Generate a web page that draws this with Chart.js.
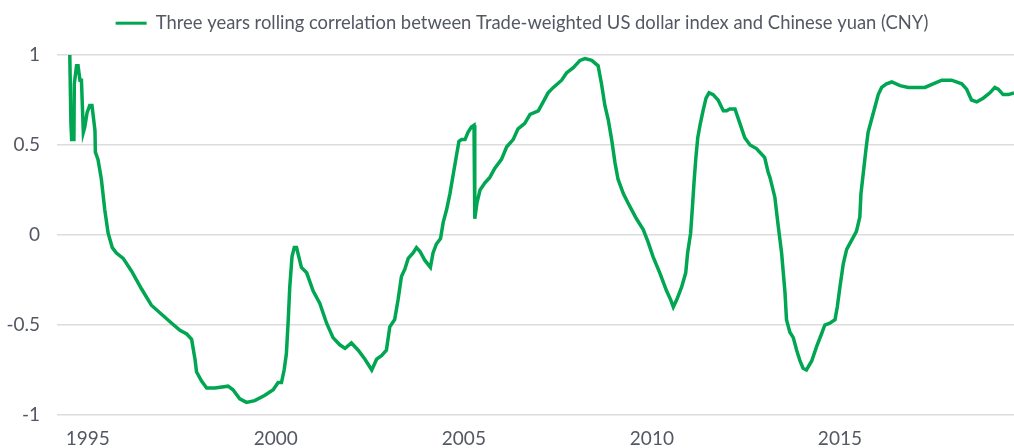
<!DOCTYPE html>
<html>
<head>
    <script src="https://cdn.jsdelivr.net/npm/chart.js"></script>
    <style>
        html, body {
            margin: 0;
            padding: 0;
            background-color: white;
        }

        .chart-box {
            width: 1014px;
            height: 448px;
        }
    </style>
</head>
<body>

    <div class="chart-box">
        <canvas id="corrChart"></canvas>
    </div>

    <script>
        // Series label
        const seriesLabel = "Three years rolling correlation between Trade-weighted US dollar index and Chinese yuan (CNY)";

        // Dates as decimal years
        const years = [
            1994.52, 1994.55, 1994.57, 1994.63, 1994.64, 1994.70, 1994.74, 1994.79, 1994.83, 1994.88,
            1994.92, 1994.98, 1995.05, 1995.11, 1995.19, 1995.20, 1995.27, 1995.36, 1995.45, 1995.54,
            1995.65, 1995.76, 1995.94, 1996.16, 1996.43, 1996.69, 1996.96, 1997.23, 1997.45, 1997.63,
            1997.76, 1997.85, 1997.89, 1998.02, 1998.16, 1998.38, 1998.73, 1998.86, 1999.04, 1999.22,
            1999.44, 1999.71, 1999.93, 2000.06, 2000.15, 2000.22, 2000.28, 2000.33, 2000.37, 2000.43,
            2000.49, 2000.55, 2000.68, 2000.82, 2000.99, 2001.17, 2001.35, 2001.52, 2001.70, 2001.84,
            2002.01, 2002.19, 2002.37, 2002.55, 2002.68, 2002.81, 2002.94, 2003.03, 2003.16, 2003.25,
            2003.34, 2003.43, 2003.52, 2003.65, 2003.74, 2003.83, 2003.96, 2004.11, 2004.18, 2004.27,
            2004.38, 2004.45, 2004.54, 2004.63, 2004.72, 2004.81, 2004.87, 2004.94, 2005.03, 2005.11,
            2005.20, 2005.27, 2005.29, 2005.35, 2005.43, 2005.56, 2005.69, 2005.82, 2006.00, 2006.14,
            2006.31, 2006.44, 2006.62, 2006.76, 2006.98, 2007.11, 2007.24, 2007.38, 2007.60, 2007.73,
            2007.91, 2008.09, 2008.22, 2008.40, 2008.57, 2008.66, 2008.75, 2008.84, 2008.93, 2009.02,
            2009.10, 2009.24, 2009.41, 2009.59, 2009.77, 2009.90, 2010.03, 2010.21, 2010.39, 2010.50,
            2010.57, 2010.66, 2010.79, 2010.90, 2010.95, 2011.03, 2011.08, 2011.12, 2011.17, 2011.22,
            2011.28, 2011.36, 2011.44, 2011.52, 2011.63, 2011.76, 2011.90, 2011.99, 2012.07, 2012.21,
            2012.34, 2012.47, 2012.61, 2012.78, 2012.87, 2012.96, 2013.00, 2013.09, 2013.14, 2013.27,
            2013.36, 2013.45, 2013.54, 2013.58, 2013.67, 2013.76, 2013.85, 2013.94, 2014.02, 2014.11,
            2014.25, 2014.38, 2014.51, 2014.60, 2014.73, 2014.87, 2014.93, 2015.00, 2015.09, 2015.18,
            2015.31, 2015.44, 2015.53, 2015.56, 2015.62, 2015.69, 2015.75, 2015.84, 2015.93, 2016.02,
            2016.11, 2016.24, 2016.38, 2016.60, 2016.82, 2017.04, 2017.26, 2017.48, 2017.71, 2017.97,
            2018.24, 2018.37, 2018.50, 2018.64, 2018.81, 2018.99, 2019.12, 2019.21, 2019.34, 2019.48,
            2019.63
        ];

        const correlation = [
            1.00, 0.62, 0.53, 0.53, 0.84, 0.94, 0.94, 0.86, 0.86, 0.57,
            0.60, 0.68, 0.72, 0.72, 0.58, 0.46, 0.42, 0.31, 0.14, 0.01,
            -0.07, -0.10, -0.13, -0.20, -0.30, -0.39, -0.44, -0.49, -0.53, -0.55,
            -0.58, -0.69, -0.76, -0.81, -0.85, -0.85, -0.84, -0.86, -0.91, -0.93,
            -0.92, -0.89, -0.86, -0.82, -0.82, -0.75, -0.66, -0.47, -0.29, -0.12,
            -0.07, -0.07, -0.18, -0.21, -0.31, -0.38, -0.49, -0.57, -0.61, -0.63,
            -0.60, -0.64, -0.69, -0.75, -0.69, -0.67, -0.64, -0.51, -0.47, -0.36,
            -0.23, -0.19, -0.13, -0.10, -0.07, -0.09, -0.14, -0.18, -0.10, -0.05,
            -0.02, 0.07, 0.14, 0.23, 0.34, 0.45, 0.52, 0.53, 0.53, 0.57,
            0.60, 0.61, 0.09, 0.18, 0.25, 0.29, 0.32, 0.37, 0.42, 0.49,
            0.53, 0.59, 0.62, 0.67, 0.69, 0.74, 0.79, 0.82, 0.86, 0.90,
            0.93, 0.97, 0.98, 0.97, 0.94, 0.84, 0.72, 0.64, 0.53, 0.40,
            0.31, 0.23, 0.16, 0.09, 0.03, -0.04, -0.12, -0.21, -0.31, -0.36,
            -0.40, -0.36, -0.29, -0.21, -0.10, 0.01, 0.16, 0.29, 0.43, 0.54,
            0.61, 0.69, 0.76, 0.79, 0.78, 0.75, 0.69, 0.69, 0.70, 0.70,
            0.62, 0.54, 0.50, 0.48, 0.46, 0.44, 0.43, 0.35, 0.32, 0.21,
            0.05, -0.10, -0.32, -0.47, -0.54, -0.57, -0.64, -0.70, -0.74, -0.75,
            -0.70, -0.62, -0.55, -0.50, -0.49, -0.47, -0.40, -0.29, -0.16, -0.08,
            -0.03, 0.02, 0.10, 0.23, 0.34, 0.47, 0.57, 0.64, 0.71, 0.78,
            0.82, 0.84, 0.85, 0.83, 0.82, 0.82, 0.82, 0.84, 0.86, 0.86,
            0.84, 0.81, 0.75, 0.74, 0.76, 0.79, 0.82, 0.81, 0.78, 0.78,
            0.79
        ];

        // Axis ticks
        const xTickYears = [1995, 2000, 2005, 2010, 2015];
        const yTickValues = [-1, -0.5, 0, 0.5, 1];

        const points = years.map((yr, i) => ({ x: yr, y: correlation[i] }));

        const textGray = "#545864";
        const lineGreen = "#00a651";
        const fontFamily = "Lato, 'Liberation Sans', sans-serif";

        // Legend: fixed height and a small shift to the right
        const legendTweak = {
            id: "legendTweak",
            beforeInit(chart) {
                const legend = chart.legend;
                if (legend) {
                    const origFit = legend.fit;
                    legend.fit = function () {
                        origFit.call(this);
                        this.height = 51;
                    };
                }
            },
            afterLayout(chart) {
                if (chart.legend) {
                    chart.legend.left += 15;
                    chart.legend.right += 15;
                }
            }
        };

        let ctx = document.getElementById("corrChart").getContext("2d");
        let chart = new Chart(ctx, {
            type: "line",
            data: {
                datasets: [{
                    label: seriesLabel,
                    data: points,
                    borderColor: lineGreen,
                    backgroundColor: lineGreen,
                    borderWidth: 3.5,
                    pointRadius: 0,
                    tension: 0,
                    clip: 6
                }]
            },
            options: {
                responsive: true,
                maintainAspectRatio: false,
                animation: false,
                layout: {
                    padding: { top: 4, left: 0, right: 0, bottom: 0 }
                },
                plugins: {
                    tooltip: { enabled: false },
                    legend: {
                        display: true,
                        position: "top",
                        labels: {
                            boxWidth: 31,
                            boxHeight: 3,
                            color: textGray,
                            padding: 10,
                            font: { family: fontFamily, size: 18.4 },
                            generateLabels: (chart) => {
                                const items = Chart.defaults.plugins.legend.labels.generateLabels(chart);
                                items.forEach(item => { item.lineWidth = 0; });
                                return items;
                            }
                        }
                    }
                },
                scales: {
                    x: {
                        type: "linear",
                        min: 1994.18,
                        max: 2019.63,
                        border: { display: false },
                        grid: { display: false, drawTicks: false },
                        afterBuildTicks: (scale) => {
                            scale.ticks = xTickYears.map(v => ({ value: v }));
                        },
                        afterFit: (scale) => { scale.height = 33; },
                        ticks: {
                            color: textGray,
                            padding: 12,
                            maxRotation: 0,
                            font: { family: fontFamily, size: 19 },
                            callback: (v) => String(v)
                        }
                    },
                    y: {
                        min: -1,
                        max: 1,
                        border: { display: false },
                        grid: { color: "#dcdcdc", lineWidth: 1.5, drawTicks: false },
                        afterBuildTicks: (scale) => {
                            scale.ticks = yTickValues.map(v => ({ value: v }));
                        },
                        afterFit: (scale) => { scale.width = 57; },
                        ticks: {
                            color: textGray,
                            padding: 17,
                            font: { family: fontFamily, size: 19 },
                            callback: (v) => String(v)
                        }
                    }
                }
            },
            plugins: [legendTweak]
        });
    </script>

</body>
</html>
